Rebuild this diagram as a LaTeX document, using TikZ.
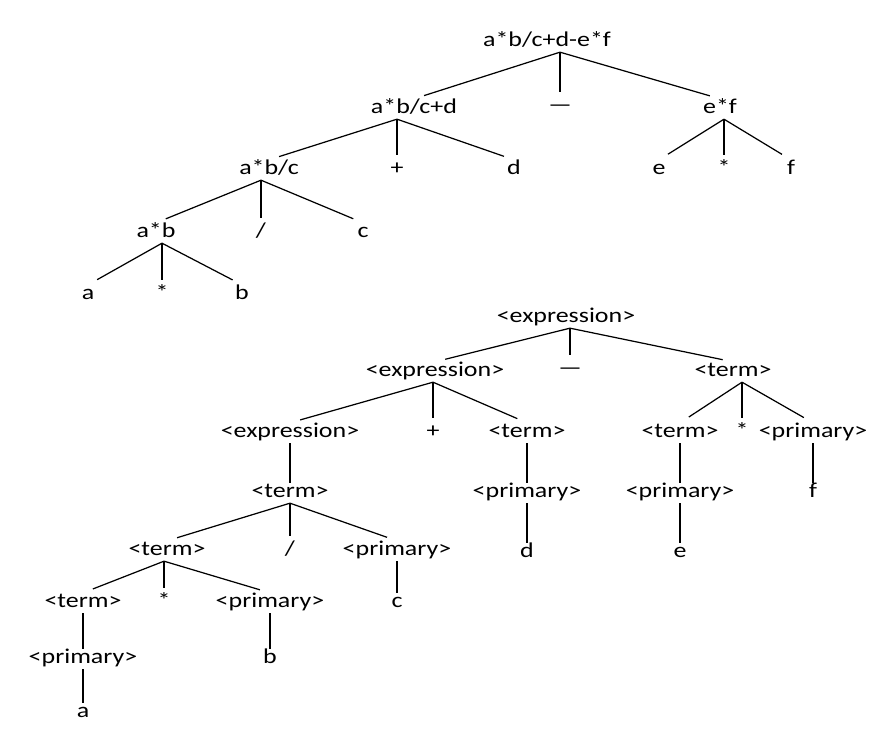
\documentclass[tikz,border=0pt]{standalone}
\usepackage{fontspec}
\newfontfamily\treefont[FakeStretch=1.23]{Carlito}
\begin{document}
\begin{tikzpicture}[
  lbl/.style={font=\treefont\fontsize{12}{14}\selectfont, inner sep=1.5pt, text height=1.5ex, text depth=.4ex},
  branch/.style={line width=0.7pt},
  side/.style={branch, shorten >=6pt},
  mid/.style={branch, shorten >=2.5pt}
]
\useasboundingbox (0,0) rectangle (17.52,-14.58);
% expression tree
\node[lbl] (root) at (10.94,-0.84) {a*b/c+d-e*f};
\node[lbl] (abcd) at (8.28,-2.18) {a*b/c+d};
\node[lbl] (minus1) at (11.2,-2.14) {—};
\node[lbl] (ef) at (14.4,-2.18) {e*f};
\node[lbl] (abc) at (5.38,-3.4) {a*b/c};
\node[lbl] (plus1) at (7.94,-3.4) {+};
\node[lbl] (d1) at (10.28,-3.4) {d};
\node[lbl] (e1) at (13.18,-3.4) {e};
\node[lbl] (times2) at (14.48,-3.4) {*};
\node[lbl] (f1) at (15.82,-3.4) {f};
\node[lbl] (ab) at (3.12,-4.66) {a*b};
\node[lbl] (div1) at (5.22,-4.66) {/};
\node[lbl] (c1) at (7.26,-4.66) {c};
\node[lbl] (a1) at (1.76,-5.9) {a};
\node[lbl] (times1) at (3.24,-5.9) {*};
\node[lbl] (b1) at (4.84,-5.9) {b};

\coordinate (k1) at (root.south -| minus1);
\coordinate (k2) at (abcd.south -| plus1);
\coordinate (k3) at (ef.south -| times2);
\coordinate (k4) at (abc.south -| div1);
\coordinate (k5) at (ab.south -| times1);
\draw[side] (k1) -- (abcd.north);
\draw[mid] (k1) -- (minus1.north);
\draw[side] (k1) -- (ef.north);
\draw[side] (k2) -- (abc.north);
\draw[mid] (k2) -- (plus1.north);
\draw[side] (k2) -- (d1.north);
\draw[side] (k3) -- (e1.north);
\draw[mid] (k3) -- (times2.north);
\draw[side] (k3) -- (f1.north);
\draw[side] (k4) -- (ab.north);
\draw[mid] (k4) -- (div1.north);
\draw[side] (k4) -- (c1.north);
\draw[side] (k5) -- (a1.north);
\draw[mid] (k5) -- (times1.north);
\draw[side] (k5) -- (b1.north);

% parse tree
\node[lbl] (ex0) at (11.32,-6.36) {<expression>};
\node[lbl] (ex1) at (8.7,-7.44) {<expression>};
\node[lbl] (minus2) at (11.4,-7.4) {—};
\node[lbl] (tm1) at (14.66,-7.44) {<term>};
\node[lbl] (ex2) at (5.8,-8.66) {<expression>};
\node[lbl] (plus2) at (8.66,-8.66) {+};
\node[lbl] (tm2) at (10.54,-8.66) {<term>};
\node[lbl] (tm3) at (13.6,-8.66) {<term>};
\node[lbl] (times3) at (14.84,-8.66) {*};
\node[lbl] (pr1) at (16.26,-8.66) {<primary>};
\node[lbl] (tm4) at (5.8,-9.86) {<term>};
\node[lbl] (pr2) at (10.54,-9.86) {<primary>};
\node[lbl] (pr3) at (13.6,-9.86) {<primary>};
\node[lbl] (f2) at (16.26,-9.86) {f};
\node[lbl] (d2) at (10.54,-11.06) {d};
\node[lbl] (e2) at (13.6,-11.06) {e};
\node[lbl] (tm5) at (3.34,-11.02) {<term>};
\node[lbl] (div2) at (5.8,-11.02) {/};
\node[lbl] (pr4) at (7.94,-11.02) {<primary>};
\node[lbl] (tm6) at (1.66,-12.06) {<term>};
\node[lbl] (times4) at (3.28,-12.06) {*};
\node[lbl] (pr5) at (5.4,-12.06) {<primary>};
\node[lbl] (c2) at (7.94,-12.06) {c};
\node[lbl] (pr6) at (1.66,-13.18) {<primary>};
\node[lbl] (b2) at (5.4,-13.18) {b};
\node[lbl] (a2) at (1.66,-14.26) {a};

\coordinate (j1) at (ex0.south -| minus2);
\coordinate (j2) at (ex1.south -| plus2);
\coordinate (j3) at (tm1.south -| times3);
\coordinate (j4) at (tm4.south -| div2);
\coordinate (j5) at (tm5.south -| times4);
\draw[side] (j1) -- (ex1.north);
\draw[mid] (j1) -- (minus2.north);
\draw[side] (j1) -- (tm1.north);
\draw[side] (j2) -- (ex2.north);
\draw[mid] (j2) -- (plus2.north);
\draw[side] (j2) -- (tm2.north);
\draw[side] (j3) -- (tm3.north);
\draw[mid] (j3) -- (times3.north);
\draw[side] (j3) -- (pr1.north);
\draw[branch] (ex2) -- (tm4);
\draw[branch] (tm2) -- (pr2);
\draw[branch] (pr2) -- (d2);
\draw[branch] (tm3) -- (pr3);
\draw[branch] (pr3) -- (e2);
\draw[branch] (pr1) -- (f2);
\draw[side] (j4) -- (tm5.north);
\draw[mid] (j4) -- (div2.north);
\draw[side] (j4) -- (pr4.north);
\draw[branch] (pr4) -- (c2);
\draw[side] (j5) -- (tm6.north);
\draw[mid] (j5) -- (times4.north);
\draw[side] (j5) -- (pr5.north);
\draw[branch] (tm6) -- (pr6);
\draw[branch] (pr6) -- (a2);
\draw[branch] (pr5) -- (b2);
\end{tikzpicture}
\end{document}
